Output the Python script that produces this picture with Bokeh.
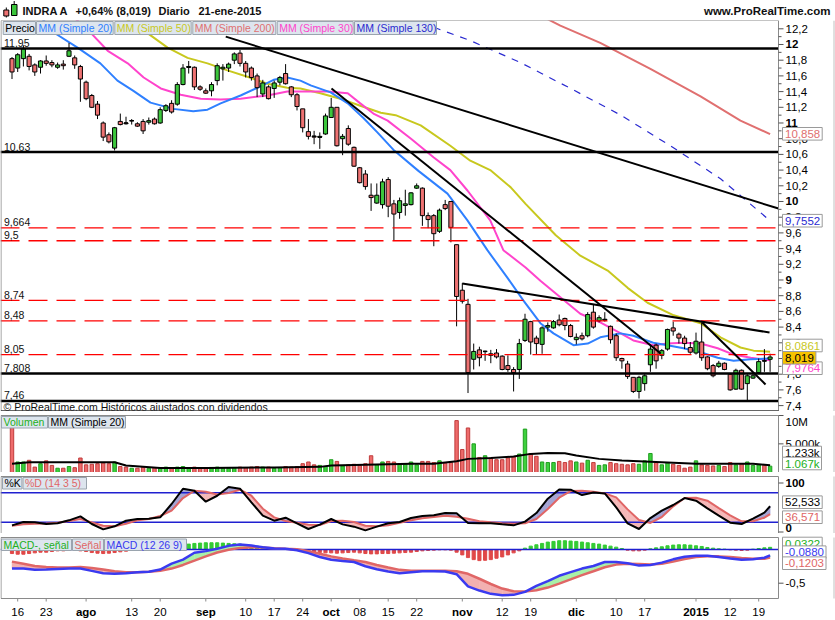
from bokeh.plotting import figure
from bokeh.models import Range1d
from bokeh.layouts import column
from bokeh.embed import file_html
from bokeh.resources import INLINE
from bokeh.core.properties import value

FONT = "Liberation Sans"

# ---------------- data ----------------
x_tick_idx = [1, 6, 13, 21, 26, 34, 41, 46, 51, 56, 61, 66, 71, 79, 86, 91, 99, 106, 111, 120, 126, 131]
x_tick_lab = ["16", "23", "ago", "13", "20", "sep", "10", "17", "24", "oct", "08", "15", "22",
              "nov", "12", "19", "dic", "10", "17", "2015", "12", "19"]
x_tick_bold = ["ago", "sep", "oct", "nov", "dic", "2015"]

price_ticks = [7.4, 7.6, 7.8, 8.0, 8.2, 8.4, 8.6, 8.8, 9.0, 9.2, 9.4, 9.6, 9.8, 10.0, 10.2, 10.4, 10.6,
               10.8, 11.0, 11.2, 11.4, 11.6, 11.8, 12.0, 12.2]
price_tick_labels = ["7,4", "7,6", "7,8", "8", "8,2", "8,4", "8,6", "8,8", "9", "9,2", "9,4", "9,6", "9,8",
                     "10", "10,2", "10,4", "10,6", "10,8", "11", "11,2", "11,4", "11,6", "11,8", "12", "12,2"]
price_minor = [7.5, 7.7, 7.9, 8.1, 8.3, 8.5, 8.7, 8.9, 9.1, 9.3, 9.5, 9.7, 9.9, 10.1, 10.3, 10.5, 10.7,
               10.9, 11.1, 11.3, 11.5, 11.7, 11.9, 12.1]
vol_ticks = [5000, 10000]
vol_tick_labels = ["5.000k", "10M"]
stoch_ticks = [0, 100]
stoch_tick_labels = ["0", "100"]
macd_ticks = [-0.5]
macd_tick_labels = ["-0,5"]

opens = [11.82,11.70,11.82,11.85,11.74,11.71,11.79,11.77,11.71,11.75,
11.85,11.83,11.72,11.52,11.35,11.24,11.00,10.85,10.68,11.02,
11.00,11.03,10.99,11.02,11.01,11.05,11.00,11.16,11.25,11.24,
11.49,11.71,11.71,11.46,11.41,11.41,11.54,11.69,11.70,11.80,
11.89,11.76,11.70,11.60,11.37,11.46,11.44,11.52,11.63,11.46,
11.36,11.18,10.89,10.83,10.82,10.86,11.07,11.20,10.80,10.93,
10.69,10.43,10.35,10.08,9.98,9.96,10.28,9.97,9.86,9.95,
9.96,10.17,10.17,9.82,9.82,9.62,9.96,10.00,9.45,8.87,
8.69,7.99,8.11,8.09,8.06,8.07,8.03,7.91,7.86,7.86,
8.23,8.47,8.26,8.18,8.40,8.39,8.49,8.51,8.42,8.24,
8.29,8.29,8.59,8.48,8.49,8.41,8.29,8.00,7.93,7.76,
7.58,7.68,7.92,8.17,8.04,8.12,8.39,8.31,8.26,8.14,
8.07,8.21,8.02,7.91,7.90,7.94,7.80,7.61,7.85,7.68,
7.75,7.82,7.97,7.99]
highs = [11.84,11.89,11.99,11.88,11.76,11.80,11.86,11.80,11.77,11.80,
12.02,11.86,11.74,11.54,11.37,11.28,11.02,10.88,10.95,11.12,
11.08,11.05,11.01,11.05,11.07,11.07,11.20,11.24,11.29,11.52,
11.75,11.79,11.72,11.48,11.44,11.52,11.76,11.75,11.77,11.90,
11.93,11.79,11.72,11.63,11.55,11.48,11.54,11.60,11.75,11.47,
11.38,11.18,11.05,10.90,10.88,11.12,11.32,11.20,10.86,10.97,
10.70,10.44,10.40,10.23,10.23,10.29,10.31,10.02,10.05,10.15,
10.12,10.23,10.18,9.86,9.84,9.91,10.02,10.00,9.45,8.96,
8.76,8.19,8.15,8.10,8.11,8.12,8.04,8.04,7.89,8.25,
8.57,8.48,8.29,8.41,8.46,8.49,8.56,8.52,8.44,8.32,
8.33,8.59,8.69,8.55,8.59,8.42,8.32,8.01,7.97,7.76,
7.78,7.80,8.17,8.19,8.12,8.38,8.47,8.33,8.29,8.21,
8.33,8.46,8.03,7.93,7.97,7.95,7.81,7.87,7.86,7.80,
7.82,8.00,8.12,8.06]
lows = [11.56,11.65,11.72,11.67,11.60,11.63,11.73,11.71,11.69,11.68,
11.84,11.69,11.27,11.29,11.19,11.05,10.77,10.74,10.65,10.97,
10.98,10.98,10.95,10.86,10.98,10.98,10.99,11.14,11.12,11.22,
11.48,11.63,11.42,11.41,11.37,11.34,11.48,11.54,11.65,11.75,
11.72,11.58,11.54,11.33,11.33,11.30,11.32,11.48,11.49,11.33,
11.16,10.88,10.79,10.73,10.67,10.85,11.07,10.70,10.59,10.71,
10.44,10.23,10.15,9.88,9.97,9.91,9.80,9.50,9.78,9.82,
9.95,10.16,9.69,9.66,9.43,9.60,9.89,9.48,8.41,8.70,
7.56,7.86,7.90,7.97,7.94,8.00,7.85,7.83,7.58,7.74,
8.21,8.05,8.05,8.06,8.34,8.38,8.41,8.36,8.27,8.18,
8.23,8.27,8.38,8.46,8.47,8.19,7.97,7.87,7.74,7.56,
7.49,7.59,7.83,7.87,7.99,8.10,8.29,8.19,8.12,8.06,
8.05,7.97,7.85,7.76,7.88,7.85,7.59,7.60,7.60,7.47,
7.74,7.80,7.83,7.83]
closes = [11.65,11.87,11.945,11.72,11.65,11.79,11.76,11.74,11.74,11.73,
11.92,11.74,11.56,11.31,11.20,11.10,10.82,10.76,10.94,10.98,
10.99,11.03,10.96,10.90,11.03,10.99,11.17,11.22,11.14,11.49,
11.70,11.72,11.46,11.43,11.38,11.49,11.73,11.71,11.75,11.88,
11.76,11.65,11.58,11.45,11.51,11.31,11.51,11.58,11.50,11.36,
11.21,10.94,10.83,10.82,10.83,11.09,11.20,10.71,10.83,10.73,
10.45,10.24,10.19,10.05,10.08,10.25,9.94,9.84,10.01,9.97,
10.11,10.20,9.82,9.77,9.59,9.89,9.91,9.67,8.79,8.73,
7.82,8.09,8.01,8.09,8.04,8.02,7.86,7.86,7.82,8.19,
8.50,8.21,8.19,8.39,8.42,8.47,8.43,8.42,8.28,8.27,
8.25,8.56,8.40,8.52,8.50,8.24,8.01,7.97,7.77,7.58,
7.76,7.78,8.12,7.97,8.10,8.37,8.35,8.26,8.19,8.08,
8.22,8.01,7.87,7.78,7.94,7.86,7.60,7.85,7.61,7.78,
7.78,7.96,7.968,8.019]

volume_k = [8200,1800,1800,2100,900,1500,2000,1200,700,700,
1000,800,2500,1300,1400,1500,1600,1500,1800,1000,
900,700,700,900,700,800,700,900,700,900,
1000,800,900,800,700,800,900,700,700,800,
900,800,900,1000,900,900,700,800,1000,900,
1000,1500,1800,1300,1200,1000,2200,1900,1100,1300,
1400,1200,1500,2900,1300,1800,1900,1800,1400,1500,
1800,1300,1900,1900,1700,2000,1600,1700,9100,4000,
7800,5000,2600,2900,2500,2200,2200,2500,2700,3200,
7600,3300,2800,1800,1700,1700,1900,1700,2000,1800,
1600,2100,1700,1200,1300,1700,1500,1400,1300,1500,
1400,2000,3300,1700,1300,1600,1400,1200,700,900,
2000,1300,1200,1100,1200,1000,1700,1300,1500,1800,
1200,1300,1200,1067]
vma_i = [0,3,12,18,20,26,34,46,54,56,64,70,74,78,80,84,88,91,94,97,99,103,107,110,114,120,130,133]
vma_v = [1470,1760,1760,1760,1170,760,760,850,940,1170,1350,1470,1470,1940,2350,2500,2760,3230,3400,3350,2930,2350,2060,1940,1760,1470,1470,1233]

ma20_i = [3.2,7.6,11.5,15.5,18.5,21.3,24.3,28.3,31.8,34.3,36.6,40.1,43.1,45.9,48.3,50.6,52.4,55.9,58.9,61.7,
          64.1,66.9,71.3,76.4,79.9,83.4,86.9,89.7,92.7,95.0,98.5,101.0,103.2,106.8,109.0,112.5,115.0,117.8,
          120.8,123.8,126.6,129.6,133]
ma20_v = [12.50,12.14,11.96,11.76,11.54,11.41,11.26,11.18,11.15,11.17,11.25,11.35,11.45,11.55,11.58,11.54,11.48,
          11.39,11.25,11.06,10.88,10.66,10.39,10.10,9.76,9.38,9.03,8.74,8.45,8.32,8.17,8.19,8.27,8.32,8.29,8.20,
          8.17,8.13,8.08,8.01,7.97,7.99,8.00]
ma30_i = [8.5,13.4,16.8,20.3,23.1,26.1,29.6,33.1,36.6,40.1,44.8,48.3,51.1,55.4,58.9,61.1,63.4,65.9,70.0,74.0,
          76.9,79.9,83.9,86.2,90.1,92.7,96.2,99.7,103.2,106.8,109.0,112.5,115.0,117.8,120.8,123.8,126.6,129.6,133]
ma30_v = [12.50,12.18,11.92,11.76,11.58,11.44,11.36,11.31,11.30,11.31,11.35,11.40,11.40,11.40,11.38,11.25,11.12,
          11.03,10.80,10.56,10.40,10.14,9.76,9.38,9.16,8.99,8.78,8.57,8.46,8.32,8.23,8.17,8.19,8.20,8.19,8.13,
          8.05,8.01,7.976]
ma50_i = [19.1,23.1,27.3,30.8,34.3,37.8,41.3,44.8,48.3,50.6,54.1,57.6,61.1,64.7,67.3,71.7,76.9,80.4,83.9,87.5,
          90.1,95.4,99.7,104.5,108.0,111.5,116.1,120.8,124.3,127.8,130.1,133]
ma50_v = [12.37,12.18,11.96,11.83,11.76,11.67,11.59,11.50,11.45,11.44,11.38,11.31,11.22,11.13,11.10,10.97,10.71,
          10.52,10.40,10.18,9.97,9.57,9.31,9.12,8.90,8.71,8.55,8.45,8.27,8.14,8.10,8.086]
ma200_i = [92.7,96.2,103.2,112.0,120.8,127.8,133]
ma200_v = [12.37,12.24,12.02,11.69,11.34,11.03,10.858]
ma130_i = [71.7,80.4,89.2,98.0,106.8,115.5,124.3,133]
ma130_v = [12.28,12.05,11.77,11.44,11.10,10.71,10.29,9.7552]

trend_i0 = [37.5, 56.05, 79.0, 121.1]
trend_p0 = [12.10, 11.44, 8.955, 8.459]
trend_i1 = [134.47, 113.8, 132.9, 132.2]
trend_p1 = [9.91, 8.064, 8.331, 7.669]

solid_levels = [11.95, 10.63, 7.808, 7.46]
solid_labels = ["11,95", "10,63", "7,808", "7,46"]
dashed_levels = [9.664, 9.5, 8.74, 8.48, 8.05]
dashed_labels = ["9,664", "9,5", "8,74", "8,48", "8,05"]

osc_i = list(range(0, 133, 2)) + [133]
stoch_k = [13.6,20.4,19.7,16.3,17.7,23.8,32.0,16.3,5.4,11.6,
23.1,26.5,27.2,29.9,57.1,88.3,84.2,61.8,74.0,91.7,
88.3,60.5,33.3,23.1,29.2,17.7,6.1,15.0,26.5,15.6,
10.9,3.4,10.9,17.7,20.4,28.5,32.6,34.0,38.7,38.1,
18.4,17.7,17.7,15.6,13.6,21.1,38.7,67.9,86.9,86.3,
75.4,80.8,78.8,50.3,17.7,6.1,28.5,43.5,55.1,69.3,
63.9,48.3,33.3,19.0,16.3,27.2,39.4,52.533]
stoch_d = [12.9,15.6,16.7,17.3,19.0,22.4,26.5,19.7,12.9,11.6,
17.0,23.8,26.5,32.6,43.5,69.3,84.2,82.2,76.7,79.5,
86.3,74.0,47.6,29.9,22.4,19.0,15.0,14.3,22.4,23.1,
20.4,12.9,11.6,13.6,19.0,23.8,27.9,30.6,33.3,31.3,
27.2,21.8,19.7,17.7,17.0,17.7,26.5,46.9,70.0,83.5,
84.2,82.2,78.8,70.6,46.2,24.5,18.4,30.6,52.4,69.3,
70.0,63.9,48.9,34.0,21.8,21.8,29.2,36.571]
macd = [-0.283,-0.283,-0.302,-0.297,-0.288,-0.283,-0.283,-0.317,-0.351,-0.361,
-0.351,-0.336,-0.331,-0.297,-0.210,-0.151,-0.049,-0.024,0.010,0.054,
0.073,0.058,0.034,0.015,0.010,-0.010,-0.054,-0.112,-0.151,-0.171,
-0.185,-0.249,-0.292,-0.327,-0.351,-0.336,-0.322,-0.322,-0.327,-0.366,
-0.546,-0.609,-0.658,-0.678,-0.673,-0.629,-0.541,-0.468,-0.390,-0.336,
-0.283,-0.244,-0.185,-0.185,-0.205,-0.239,-0.229,-0.195,-0.146,-0.107,
-0.093,-0.093,-0.112,-0.132,-0.151,-0.146,-0.122,-0.088]
signal = [-0.180,-0.210,-0.244,-0.258,-0.268,-0.268,-0.258,-0.273,-0.297,-0.322,
-0.336,-0.336,-0.331,-0.317,-0.283,-0.229,-0.166,-0.102,-0.044,-0.005,
0.024,0.034,0.029,0.019,0.010,0.005,-0.024,-0.063,-0.102,-0.132,
-0.161,-0.185,-0.229,-0.268,-0.302,-0.317,-0.317,-0.317,-0.317,-0.322,
-0.361,-0.434,-0.512,-0.580,-0.619,-0.624,-0.604,-0.565,-0.507,-0.444,
-0.380,-0.322,-0.263,-0.224,-0.210,-0.215,-0.224,-0.210,-0.180,-0.141,
-0.112,-0.102,-0.102,-0.112,-0.127,-0.137,-0.137,-0.1203]
macd_hist = [-0.06,-0.07,-0.07,-0.06,-0.05,-0.04,-0.04,-0.03,-0.02,-0.02,
-0.015,-0.01,-0.02,-0.03,-0.045,-0.055,-0.06,-0.055,-0.045,-0.035,
-0.025,-0.015,-0.01,-0.01,-0.005,0.0,0.01,0.02,0.04,0.06,
0.07,0.08,0.09,0.095,0.10,0.10,0.10,0.095,0.09,0.085,
0.08,0.07,0.06,0.05,0.04,0.03,0.02,0.01,0.005,-0.005,
-0.01,-0.02,-0.03,-0.04,-0.045,-0.05,-0.05,-0.055,-0.05,-0.045,
-0.04,-0.05,-0.06,-0.065,-0.065,-0.06,-0.06,-0.055,-0.05,-0.045,
-0.04,-0.03,-0.02,-0.015,-0.01,-0.005,-0.005,-0.01,-0.04,-0.08,
-0.12,-0.15,-0.165,-0.16,-0.15,-0.13,-0.11,-0.08,-0.05,-0.02,
0.02,0.05,0.07,0.09,0.11,0.12,0.13,0.13,0.125,0.12,
0.11,0.10,0.09,0.08,0.065,0.05,0.035,0.015,-0.01,-0.02,
-0.02,-0.01,0.01,0.025,0.04,0.055,0.065,0.07,0.07,0.065,
0.055,0.045,0.03,0.02,0.01,0.005,-0.005,-0.01,-0.015,-0.01,
0.005,0.015,0.025,0.0322]

# ---------------- styling helpers ----------------
GREEN = "#3cc63c"
RED = "#ee7272"
C_MA20 = "#2f80ff"
C_MA50 = "#c8c81e"
C_MA200 = "#e07070"
C_MA30 = "#ff44cc"
C_MA130 = "#2a2ad0"
BOXBG = "#dde5ee"
BOXLN = "#9aa4ae"
BORDER = "#8a8a8a"

days = list(range(len(opens)))


def px2x(px):
    return (px - 11.5) / 5.7


def pm(py):      # main panel pixel -> price
    return 12.5605 - py / 78.5


def pv(py):      # volume panel pixel -> volume (k)
    return (471.7 - py) * 10000.0 / 56.7


def ps(py):      # stochastic
    return (531.5 - py) / 0.49


def pmc(py):     # macd
    return (549.0 - py) / 67.4


XL, XR = px2x(0), px2x(835)
XF = px2x(778)   # right edge of the chart area


def make_fig(py_top, py_bot, conv):
    p = figure(frame_width=835, frame_height=py_bot - py_top,
               x_range=Range1d(XL, XR), y_range=Range1d(conv(py_bot), conv(py_top)),
               output_backend="svg", toolbar_location=None,
               x_axis_location=None, y_axis_location=None, min_border=0)
    p.grid.visible = False
    p.outline_line_color = None
    p.background_fill_color = "white"
    p.border_fill_color = "white"
    return p


def panel_box(p, conv, top, bot):
    p.line([px2x(0.5), XF, XF, px2x(0.5), px2x(0.5)],
           [conv(top), conv(top), conv(bot), conv(bot), conv(top)], color=BORDER, line_width=1)
    p.line([px2x(833.5), px2x(833.5)], [conv(top), conv(bot)], color="#c0c0c0", line_width=1)


def right_axis(p, conv, ticks, labels, bold=(), minor=(), baselines=None):
    p.segment(x0=[XF] * len(ticks), x1=[px2x(783)] * len(ticks), y0=ticks, y1=ticks,
              color="#555555", line_width=1)
    if minor:
        p.segment(x0=[XF] * len(minor), x1=[px2x(781)] * len(minor), y0=list(minor), y1=list(minor),
                  color="#555555", line_width=1)
    for t, l in zip(ticks, labels):
        bl = "middle" if baselines is None else baselines.get(l, "middle")
        p.text(x=[px2x(785)], y=[t], text=[l], text_font=value(FONT), text_font_size="11.5px",
               text_font_style="bold" if l in bold else "normal", text_baseline=bl, text_color="black")


CHW = {",": 3.2, ".": 3.2, "-": 3.8, "k": 5.6, "M": 9.4}


def value_box(p, py, conv, txt, col, bg="white"):
    w = sum(CHW.get(c, 6.3) for c in txt) + 5
    p.quad(left=[px2x(782)], right=[px2x(782 + w)], top=[conv(py - 6.3)], bottom=[conv(py + 6.3)],
           fill_color=bg, line_color="#9a9a9a", line_width=1)
    p.text(x=[px2x(784.5)], y=[conv(py)], text=[txt], text_color=col, text_font=value(FONT),
           text_font_size="11.5px", text_baseline="middle")


def legend_boxes(p, items, y0, y1, ymid, conv):
    for (l, r, txt, col) in items:
        p.quad(left=[px2x(l)], right=[px2x(r)], bottom=[conv(y1)], top=[conv(y0)],
               fill_color=BOXBG, line_color=BOXLN, line_width=1)
        p.text(x=[px2x(l + 2)], y=[conv(ymid)], text=[txt], text_color=col,
               text_font=value(FONT), text_font_size="10.5px", text_baseline="middle")


def fill_between(p, xs, a, b, cup, cdn):
    ux, uy, dx, dy = [], [], [], []
    for k in range(len(xs) - 1):
        x0, x1 = xs[k], xs[k + 1]
        d0, d1 = a[k] - b[k], a[k + 1] - b[k + 1]
        if d0 * d1 < 0:
            t = d0 / (d0 - d1)
            xc = x0 + t * (x1 - x0)
            yc = a[k] + t * (a[k + 1] - a[k])
            polys = [([x0, xc, x0], [a[k], yc, b[k]], d0 > 0),
                     ([xc, x1, x1], [yc, a[k + 1], b[k + 1]], d1 > 0)]
        else:
            polys = [([x0, x1, x1, x0], [a[k], a[k + 1], b[k + 1], b[k]], (d0 + d1) >= 0)]
        for xx, yy, up_ in polys:
            if up_:
                ux.append(xx); uy.append(yy)
            else:
                dx.append(xx); dy.append(yy)
    if ux:
        p.patches(ux, uy, fill_color=cup, line_color=cup, line_width=0.5)
    if dx:
        p.patches(dx, dy, fill_color=cdn, line_color=cdn, line_width=0.5)


# ---------------- header ----------------
hdr = figure(frame_width=835, frame_height=20, x_range=Range1d(0, 835), y_range=Range1d(0, 20),
             output_backend="svg", toolbar_location=None, x_axis_location=None, y_axis_location=None,
             min_border=0)
hdr.grid.visible = False
hdr.outline_line_color = None
hdr.background_fill_color = "white"
hdr.border_fill_color = "white"
hdr.segment(x0=[5.8, 13.7], y0=[3, 14.5], x1=[5.8, 13.7], y1=[13, 19.5], color="black", line_width=1)
hdr.quad(left=[3.3], right=[8.3], bottom=[4.5], top=[10.5], fill_color=RED, line_color="black")
hdr.quad(left=[11], right=[16.5], bottom=[5], top=[16], fill_color=GREEN, line_color="black")
hdr.text(x=[22, 75, 158, 198], y=[10, 10, 10, 10],
         text=["INDRA A", "+0,64% (8,019)", "Diario", "21-ene-2015"],
         text_font=value(FONT), text_font_style="bold", text_font_size="11px",
         text_baseline="middle", text_color="#111111")
hdr.text(x=[830], y=[10], text=["www.ProRealTime.com"], text_font=value(FONT),
         text_font_style="bold", text_font_size="11.5px", text_baseline="middle", text_align="right",
         text_color="#111111")

# ---------------- main price panel ----------------
main = make_fig(20, 411, pm)

main.line(ma200_i, ma200_v, color=C_MA200, line_width=2)
main.line(ma130_i, ma130_v, color=C_MA130, line_width=1.2, line_dash="7 7")
main.line(ma50_i, ma50_v, color=C_MA50, line_width=2)
main.line(ma30_i, ma30_v, color=C_MA30, line_width=2)
main.line(ma20_i, ma20_v, color=C_MA20, line_width=2)

up = [c >= o for o, c in zip(opens, closes)]
body_top = [max(o, c) for o, c in zip(opens, closes)]
body_bot = [min(o, c) for o, c in zip(opens, closes)]
ccol = [GREEN if u else RED for u in up]
main.segment(x0=days, y0=lows, x1=days, y1=highs, color="black", line_width=1)
main.vbar(x=days, width=0.72, top=body_top, bottom=body_bot, fill_color=ccol, line_color="black",
          line_width=1)
doji = [i for i in days if abs(opens[i] - closes[i]) < 0.012]
main.segment(x0=[i - 0.36 for i in doji], x1=[i + 0.36 for i in doji],
             y0=[opens[i] for i in doji], y1=[opens[i] for i in doji], color="black", line_width=1.5)

for lv in dashed_levels:
    main.line([XL, XF], [lv, lv], color="#ff0000", line_width=1.3, line_dash="19 9")
for lv in solid_levels:
    main.line([XL, XF], [lv, lv], color="black", line_width=2.5)
main.text(x=[px2x(3.5)] * 9, y=[v + 1.5 / 78.5 for v in solid_levels + dashed_levels],
          text=solid_labels + dashed_labels, text_font=value(FONT), text_font_size="10.5px",
          text_baseline="bottom", text_color="#111111")

main.segment(x0=trend_i0, y0=trend_p0, x1=trend_i1, y1=trend_p1, color="black", line_width=2)

main.text(x=[px2x(3)], y=[pm(406)], text=["\u00a9 ProRealTime.com  Hist\u00f3ricos ajustados con dividendos"],
          text_font=value(FONT), text_font_size="10.5px", text_baseline="middle", text_color="#111111")

panel_box(main, pm, 20, 411)
main.line([px2x(0.5), XF], [pm(410.5), pm(410.5)], color="#333333", line_width=1.5)

legend_boxes(main, [(2.7, 35, "Precio", "black"), (36, 112.7, "MM (Simple 20)", C_MA20),
                    (114.3, 190.7, "MM (Simple 50)", C_MA50), (192.3, 275.3, "MM (Simple 200)", C_MA200),
                    (276.7, 352.7, "MM (Simple 30)", C_MA30), (354, 436, "MM (Simple 130)", C_MA130)],
             21, 34, 27.8, pm)

right_axis(main, pm, price_ticks, price_tick_labels, bold=("8", "9", "10", "11", "12"), minor=price_minor)
value_box(main, 133.3, pm, "10,858", C_MA200)
value_box(main, 220.2, pm, "9,7552", C_MA130)
value_box(main, 345, pm, "8,0861", C_MA50)
value_box(main, 367.7, pm, "7,9764", C_MA30)
value_box(main, 357.3, pm, "8,019", "black", bg="#f7c300")

# ---------------- volume panel ----------------
vol = make_fig(411, 472, pv)
vfill = ["#3dd13d" if u else "#ee6b6b" for u in up]
vline = ["#1f9e1f" if u else "#c03c3c" for u in up]
vol.vbar(x=days, width=0.6, top=volume_k, bottom=pv(472), fill_color=vfill, line_color=vline,
         line_width=1)
vol.line(vma_i, vma_v, color="black", line_width=2)
panel_box(vol, pv, 415, 472)
legend_boxes(vol, [(1, 47, "Volumen", "#22b022"), (48, 125, "MM (Simple 20)", "black")],
             416, 427.5, 421.8, pv)
right_axis(vol, pv, vol_ticks, vol_tick_labels, baselines={"10M": "top"})
value_box(vol, 452, pv, "1.233k", "black")
value_box(vol, 463, pv, "1.067k", "#22b022")

# ---------------- stochastic panel ----------------
sto = make_fig(472, 533, ps)
fill_between(sto, osc_i, stoch_k, stoch_d, "#a4a4d4", "#f5b8b8")
sto.line([XL, XF], [80, 80], color="#2020d0", line_width=1.5)
sto.line([XL, XF], [20, 20], color="#2020d0", line_width=1.5)
sto.line(osc_i, stoch_d, color="#e06666", line_width=2)
sto.line(osc_i, stoch_k, color="black", line_width=2)
panel_box(sto, ps, 476, 533)
legend_boxes(sto, [(2, 21.4, "%K", "black"), (22.5, 86, "%D (14 3 5)", "#e06666")],
             477, 488.5, 482.8, ps)
right_axis(sto, ps, stoch_ticks, stoch_tick_labels, bold=("0", "100"), baselines={"0": "bottom"})
value_box(sto, 501.7, ps, "52,533", "black")
value_box(sto, 516.7, ps, "36,571", "#e06666")

# ---------------- MACD panel + dates ----------------
mac = make_fig(533, 620, pmc)
hcol = ["#33cc33" if h >= 0 else "#e04848" for h in macd_hist]
mac.vbar(x=days, width=0.55, top=macd_hist, bottom=0, fill_color=hcol, line_color=hcol)
mac.line([XL, XF], [0, 0], color="#2020d0", line_width=1.5)
fill_between(mac, osc_i, macd, signal, "#a8f0a8", "#f2b0b0")
mac.line(osc_i, signal, color="#e06666", line_width=2.5)
mac.line(osc_i, macd, color="#3a3af0", line_width=2.5)
panel_box(mac, pmc, 537, 598)
legend_boxes(mac, [(1, 71, "MACD-, se\u00f1al", "#22b022"), (72, 103, "Se\u00f1al", "#e06666"),
                   (104, 186, "MACD (12 26 9)", "#3a3af0")], 538.5, 550, 544.2, pmc)
right_axis(mac, pmc, macd_ticks, macd_tick_labels)
value_box(mac, 543, pmc, "0,0322", "#22b022")
value_box(mac, 551.7, pmc, "-0,0880", "#3a3af0")
value_box(mac, 562.7, pmc, "-0,1203", "#e06666")

# date axis
mac.segment(x0=x_tick_idx, x1=x_tick_idx, y0=[pmc(598)] * len(x_tick_idx), y1=[pmc(601)] * len(x_tick_idx),
            color=BORDER, line_width=1)
for i, l in zip(x_tick_idx, x_tick_lab):
    mac.text(x=[i], y=[pmc(611)], text=[l], text_font=value(FONT), text_font_size="11.5px",
             text_font_style="bold" if l in x_tick_bold else "normal", text_align="center",
             text_baseline="middle", text_color="black")

layout = column(hdr, main, vol, sto, mac, spacing=0)
open("out.html", "w").write(file_html(layout, INLINE))
